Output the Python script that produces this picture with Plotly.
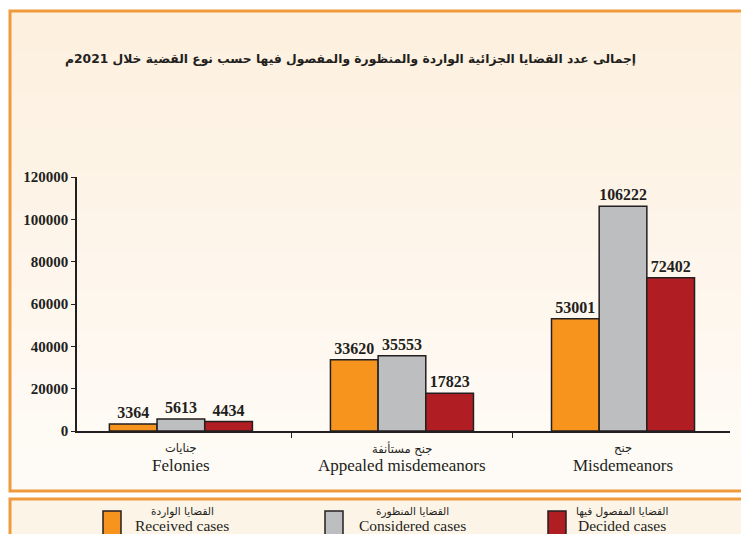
import plotly.graph_objects as go

categories = ["Felonies", "Appealed misdemeanors", "Misdemeanors"]
categories_ar = ["جنايات", "جنح مستأنفة", "جنح"]
series_names = ["Received cases", "Considered cases", "Decided cases"]
series_names_ar = ["القضايا الواردة", "القضايا المنظورة", "القضايا المفصول فيها"]
received = [3364, 33620, 53001]
considered = [5613, 35553, 106222]
decided = [4434, 17823, 72402]
y_ticks = [0, 20000, 40000, 60000, 80000, 100000, 120000]
title_text = "إجمالى عدد القضايا الجزائية الواردة والمنظورة والمفصول فيها حسب نوع القضية خلال 2021م"

colors = ["#F7941D", "#BCBEC0", "#B01E24"]
OFF = 8  # page body margin
W, H = 749 - OFF, 534 - OFF
L = 77 - OFF
R = W - (730 - OFF)
T = 177 - OFF
B = H - (431 - OFF)
PW, PH = W - L - R, H - T - B

def px(x):
    return (x - OFF - L) / PW

def py(y):
    return (H - B - (y - OFF)) / PH

SERIF = "Liberation Serif, Times New Roman, serif"
ARAB = "DejaVu Sans, sans-serif"

fig = go.Figure()
for name, vals, col in zip(series_names, [received, considered, decided], colors):
    fig.add_trace(go.Bar(
        x=categories, y=vals, name=name,
        marker=dict(color=col, line=dict(color="#231F20", width=1.5)),
        text=[str(v) for v in vals], textposition="outside",
        textfont=dict(family=SERIF, size=16, color="#231F20", weight="bold"),
        cliponaxis=False, showlegend=False,
    ))

shapes = []
top, bot = 11, 491
n = 12
c0 = (253, 240, 223)
c1 = (254, 251, 246)
for i in range(n):
    t = i / (n - 1)
    c = tuple(int(round(a + (b - a) * t)) for a, b in zip(c0, c1))
    y0 = top + (bot - top) * i / n
    y1 = top + (bot - top) * (i + 1) / n
    shapes.append(dict(type="rect", xref="paper", yref="paper", layer="below",
                       x0=px(10), x1=px(760), y0=py(y0), y1=py(y1 + 1),
                       fillcolor="rgb(%d,%d,%d)" % c, line=dict(width=0)))
shapes.append(dict(type="rect", xref="paper", yref="paper", layer="below",
                   x0=px(10), x1=px(760), y0=py(491), y1=py(11),
                   fillcolor="rgba(0,0,0,0)", line=dict(color="#F09A3E", width=3)))
shapes.append(dict(type="rect", xref="paper", yref="paper", layer="below",
                   x0=px(10), x1=px(760), y0=py(545), y1=py(499),
                   fillcolor="#FDF4E8", line=dict(color="#F09A3E", width=3)))

annotations = []
annotations.append(dict(text="<b>" + title_text + "</b>", xref="paper", yref="paper",
                        x=px(638), y=py(60), xanchor="right", yanchor="middle",
                        showarrow=False, font=dict(family=ARAB, size=12.3, color="#231F20")))
for cat, ar in zip(categories, categories_ar):
    annotations.append(dict(text=ar, x=cat, xref="x", yref="paper", y=py(448),
                            xanchor="center", yanchor="middle", showarrow=False,
                            font=dict(family=ARAB, size=11.5, color="#231F20")))
    annotations.append(dict(text=cat, x=cat, xref="x", yref="paper", y=py(465),
                            xanchor="center", yanchor="middle", showarrow=False,
                            font=dict(family=SERIF, size=17, color="#231F20")))
leg_sq = [103, 325, 548]
leg_txt = [182, 412, 622]
for sx, tx, col, en, ar in zip(leg_sq, leg_txt, colors, series_names, series_names_ar):
    shapes.append(dict(type="rect", xref="paper", yref="paper",
                       x0=px(sx), x1=px(sx + 18), y0=py(540), y1=py(511),
                       fillcolor=col, line=dict(color="#231F20", width=1.5)))
    annotations.append(dict(text=ar, xref="paper", yref="paper", x=px(tx), y=py(512),
                            xanchor="center", yanchor="middle", showarrow=False,
                            font=dict(family=ARAB, size=10.5, color="#231F20")))
    annotations.append(dict(text=en, xref="paper", yref="paper", x=px(tx), y=py(525),
                            xanchor="center", yanchor="middle", showarrow=False,
                            font=dict(family=SERIF, size=15.5, color="#231F20")))

fig.update_layout(
    width=W, height=H,
    margin=dict(l=L, r=R, t=T, b=B, pad=0),
    paper_bgcolor="white", plot_bgcolor="rgba(0,0,0,0)",
    barmode="group", bargap=0.353, bargroupgap=0,
    shapes=shapes, annotations=annotations,
    showlegend=False,
    xaxis=dict(range=[-0.47, 2.484], showticklabels=False, ticks="outside", tickson="boundaries",
               ticklen=5, tickcolor="#231F20", showline=True, linecolor="#231F20",
               linewidth=1.5, showgrid=False, zeroline=False),
    yaxis=dict(range=[0, 120000], tickvals=y_ticks, ticktext=[str(v) for v in y_ticks],
               ticks="outside", ticklen=4, tickcolor="#231F20", showline=True,
               linecolor="#231F20", linewidth=1.5, showgrid=False, zeroline=False,
               tickfont=dict(family=SERIF, size=15, color="#231F20", weight="bold")),
)

fig.write_html("out.html")
